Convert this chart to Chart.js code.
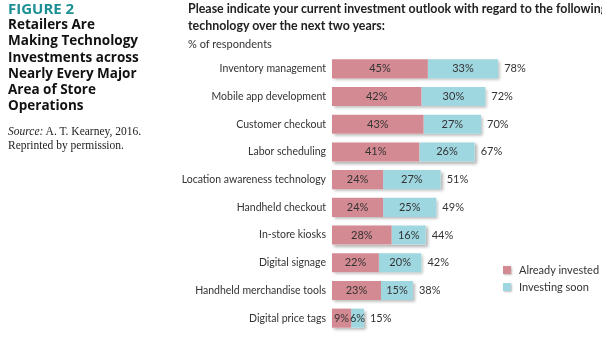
<!DOCTYPE html>
<html>
<head>
<meta charset="utf-8">
<script src="https://cdn.jsdelivr.net/npm/chart.js@4"></script>
<style>
  body { margin: 0; background: #fff; }
  #wrap { position: relative; width: 602px; height: 338px; overflow: hidden; }
  #side { position: absolute; left: 8px; top: 1px; width: 170px; }
  #fig { font: bold 15px "Open Sans", sans-serif; color: #1b8f93; line-height: 14px; }
  #heading { font: bold 13.5px "Open Sans", sans-serif; color: #111; line-height: 16.3px; margin-top: 1px; }
  #source { font: 11.5px "Liberation Serif", serif; color: #222; line-height: 14px; margin-top: 10px; }
  #q { position: absolute; left: 188px; top: 0px; font: bold 12.4px Lato, sans-serif; color: #222; line-height: 17px; white-space: nowrap; }
  #unit { position: absolute; left: 188px; top: 37px; font: 11px Lato, sans-serif; color: #333; }
  #legend { position: absolute; left: 503px; top: 261px; font: 11px Lato, sans-serif; color: #333; }
  .lg { height: 17px; display: flex; align-items: center; }
  .sw { width: 8px; height: 8px; margin-right: 8px; box-shadow: 1px 1px 2px rgba(0,0,0,0.25); }
  canvas { position: absolute; left: 0; top: 0; }
</style>
</head>
<body>
<div id="wrap">
  <canvas id="chart" width="602" height="338"></canvas>
  <div id="side">
    <div id="fig">FIGURE 2</div>
    <div id="heading">Retailers Are<br>Making Technology<br>Investments across<br>Nearly Every Major<br>Area of Store<br>Operations</div>
    <div id="source"><i>Source:</i> A. T. Kearney, 2016.<br>Reprinted by permission.</div>
  </div>
  <div id="q">Please indicate your current investment outlook with regard to the following<br>technology over the next two years:</div>
  <div id="unit">% of respondents</div>
  <div id="legend"></div>
</div>
<script>
const categories = [
  'Inventory management',
  'Mobile app development',
  'Customer checkout',
  'Labor scheduling',
  'Location awareness technology',
  'Handheld checkout',
  'In-store kiosks',
  'Digital signage',
  'Handheld merchandise tools',
  'Digital price tags'
];
const alreadyInvested = [45, 42, 43, 41, 24, 24, 28, 22, 23, 9];
const investingSoon = [33, 30, 27, 26, 27, 25, 16, 20, 15, 6];
const totals = [78, 72, 70, 67, 51, 49, 44, 42, 38, 15];
const seriesNames = ['Already invested', 'Investing soon'];
const colors = ['#d48a93', '#9fd7e1'];

// legend
const legend = document.getElementById('legend');
seriesNames.forEach((name, i) => {
  const row = document.createElement('div');
  row.className = 'lg';
  row.innerHTML = '<span class="sw" style="background:' + colors[i] + '"></span>' + name;
  legend.appendChild(row);
});

// one soft shadow behind each whole stacked bar, then value labels
const barLabels = {
  id: 'barLabels',
  beforeDatasetsDraw(chart) {
    const ctx = chart.ctx;
    const first = chart.getDatasetMeta(0).data;
    const last = chart.getDatasetMeta(1).data;
    ctx.save();
    ctx.shadowColor = 'rgba(0,0,0,0.3)';
    ctx.shadowBlur = 3;
    ctx.shadowOffsetX = 2;
    ctx.shadowOffsetY = 2;
    ctx.fillStyle = '#ffffff';
    first.forEach((bar, i) => {
      const h = bar.height;
      ctx.fillRect(bar.base, bar.y - h / 2, last[i].x - bar.base, h);
    });
    ctx.restore();
  },
  afterDatasetsDraw(chart) {
    const ctx = chart.ctx;
    ctx.save();
    ctx.font = '11px Lato, sans-serif';
    ctx.fillStyle = '#333';
    ctx.textBaseline = 'middle';
    ctx.textAlign = 'center';
    chart.data.datasets.forEach((ds, di) => {
      chart.getDatasetMeta(di).data.forEach((bar, i) => {
        const mid = (bar.x + bar.base) / 2;
        ctx.fillText(ds.data[i] + '%', mid, bar.y);
      });
    });
    ctx.textAlign = 'left';
    chart.getDatasetMeta(1).data.forEach((bar, i) => {
      ctx.fillText(totals[i] + '%', bar.x + 6, bar.y);
    });
    ctx.restore();
  }
};

new Chart(document.getElementById('chart'), {
  type: 'bar',
  data: {
    labels: categories,
    datasets: [
      { label: seriesNames[0], data: alreadyInvested, backgroundColor: colors[0] },
      { label: seriesNames[1], data: investingSoon, backgroundColor: colors[1] }
    ]
  },
  options: {
    indexAxis: 'y',
    responsive: false,
    animation: false,
    layout: { padding: { top: 55, bottom: 6, right: 57, left: 0 } },
    datasets: { bar: { categoryPercentage: 0.69, barPercentage: 1 } },
    scales: {
      x: { stacked: true, min: 0, max: 100, display: false },
      y: {
        stacked: true,
        grid: { display: false, drawTicks: false },
        border: { display: false },
        ticks: { padding: 6, color: '#333', font: { family: 'Lato', size: 10.5 } },
        afterFit(scale) {
          scale.width = 332;
          scale.paddingTop = 0;
          scale.paddingBottom = 0;
        }
      }
    },
    plugins: {
      legend: { display: false },
      tooltip: { enabled: false }
    }
  },
  plugins: [barLabels]
});
</script>
</body>
</html>
